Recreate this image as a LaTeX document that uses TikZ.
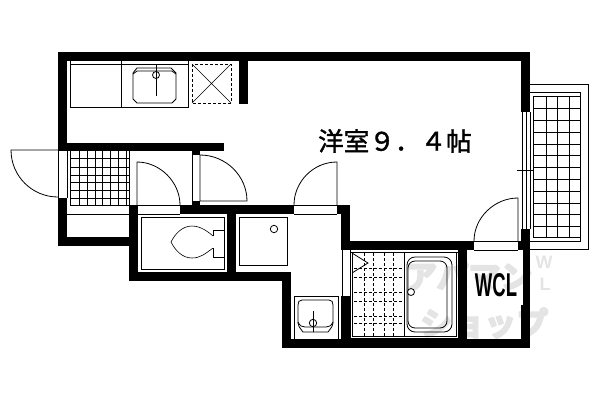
\documentclass[tikz,border=0pt]{standalone}
\usepackage{fontspec}
\setmainfont{Liberation Sans}
\newfontfamily\cjk[FakeBold=1.5]{Noto Sans CJK JP}
\newfontfamily\cjkmark[FakeBold=6]{Noto Sans CJK JP Bold}
\definecolor{markgray}{HTML}{E4E4E4}
\tikzset{
    wall/.style={fill=black,draw=none},
    fixture/.style={draw=black,line width=0.8pt},
    thin line/.style={draw=black,line width=0.6pt},
    dash line/.style={draw=black,line width=0.8pt,dash pattern=on 3pt off 2pt},
    mark text/.style={text=markgray,font=\cjkmark\fontsize{32}{32}\selectfont,inner sep=0pt},
    mark letter/.style={text=markgray,font=\bfseries\fontsize{18}{18}\selectfont,inner sep=0pt}
}
\begin{document}
\begin{tikzpicture}[x=1pt,y=-1pt]
    \useasboundingbox (0,0) rectangle (600,400);

    % watermark
    \node[mark text,anchor=west] (markTop) at (405,276) {\special{pdf:code 0.894 G 5 w 1 j 2 Tr}アパマン};
    \node[mark text,anchor=west] (markBottom) at (420,323) {\special{pdf:code 0.894 G 5 w 1 j 2 Tr}ショップ};
    \node[mark letter] (markW) at (544,262) {W};
    \node[mark letter] (markL) at (545,284) {L};

    % walls
    \foreach \xa/\ya/\xb/\yb in {58/52/530/61, 58/52/67/151, 58/143/224/151, 239/52/248/104,
        521/52/530/112, 521/229/530/250, 523/250/530/305, 521/305/530/348, 58/198/67/246,
        58/237/138/246, 129/205/138/281, 129/272/291/281, 180/205/294/214, 337/205/350/214,
        227/205/236/281, 192/151/200/155, 192/201/200/205, 282/272/291/348, 282/339/530/348,
        341/205/350/250, 341/296/350/348, 341/241/474/250, 518/241/530/250, 458/250/467/348}
        \fill[wall] (\xa,\ya) rectangle (\xb,\yb);

    % entry
    \draw[fixture] (58,151) -- (58,198) (67,151) -- (67,198) (70,151) -- (70,205);
    \draw[fixture] (58,150) -- (11,150) .. controls (11,176) and (32,197) .. (58,197);
    \foreach \a in {79,87,95,102,110,118,126,129}
        \draw[fixture] (\a,151) -- (\a,205);
    \foreach \a in {158,167,175,182,190,198,205}
        \draw[fixture] (70,\a) -- (129,\a);
    \draw[fixture] (67,214) -- (129,214) (138,205) -- (180,205) (138,214) -- (180,214);

    % doors
    \draw[fixture] (137,205) -- (137,162) .. controls (160,162) and (180,182) .. (180,205);
    \draw[fixture] (192,155) -- (192,201);
    \draw[fixture] (200,201) -- (200,155) .. controls (226,155) and (247,176) .. (247,201) -- (200,201);
    \draw[fixture] (337,205) -- (337,162) .. controls (313,162) and (294,182) .. (294,205);
    \draw[fixture] (294,205) -- (337,205) (294,214) -- (337,214);
    \draw[fixture] (518,241) -- (518,198) .. controls (494,198) and (474,218) .. (474,241);
    \draw[fixture] (474,241) -- (518,241) (474,250) -- (518,250);

    % kitchen
    \draw[fixture] (70,61) -- (70,107) -- (188,107) -- (188,61) (70,64) -- (188,64) (121,61) -- (121,107);
    \draw[fixture] (137,68) -- (171,68) -- (176,73) -- (176,99) -- (172,103) -- (137,103) -- (133,99) -- (133,73) -- cycle;
    \draw[fixture] (133,74) -- (137,71) -- (172,71) -- (176,74);
    \draw[fixture] (156,64) -- (156,96);
    \draw[fixture] (156,75) circle (3.5);
    \draw[dash line] (192,64) rectangle (231,103);
    \draw[thin line] (192,64) -- (231,103) (231,64) -- (192,103);

    % toilet
    \draw[fixture] (141,217) rectangle (224,269);
    \draw[fixture] (213,236) -- (213,230) -- (224,230) (213,248) -- (213,257) -- (224,257);
    \draw[thin line] (213,236) .. controls (204,228) and (197,226) .. (192,226) .. controls (182,226) and (175,234) .. (171,242)
        .. controls (175,250) and (182,258) .. (192,258) .. controls (200,258) and (205,254) .. (213,248);

    % washer
    \draw[fixture] (239,217) rectangle (287,265);
    \draw[fixture] (274,229) circle (3.7);

    % basin
    \draw[fixture] (294,339) -- (294,296) -- (338,296) -- (338,339);
    \draw[fixture] (302,300) -- (329,300) .. controls (332,300) and (333,302) .. (333,305) -- (333,323) .. controls (333,325) and (332,327) .. (328,332)
        -- (303,332) .. controls (299,327) and (298,325) .. (298,323) -- (298,305) .. controls (298,302) and (299,300) .. (302,300);
    \draw[fixture] (298,322) .. controls (300,326) and (302,327) .. (305,327) -- (326,327) .. controls (329,327) and (331,326) .. (333,322);
    \draw[fixture] (313,311) -- (313,332);
    \draw[fixture] (313,323) circle (3.7);

    % bath
    \draw[fixture] (342,250) -- (342,296) (350,250) -- (350,296);
    \draw[fixture] (350,252) rectangle (458,338);
    \draw[fixture] (352,252) -- (352,336) -- (456,336) -- (456,252);
    \draw[fixture] (404,252) -- (404,336);
    \draw[fixture] (352,253) -- (368,263) -- (352,273);
    \foreach \a in {364,373,384,393}
        \draw[dash line] (\a,253) -- (\a,336);
    \foreach \a in {268,277,292,301,316,323}
        \draw[dash line] (354,\a) -- (404,\a);
    \draw[fixture,rounded corners=8pt] (407,257) rectangle (452,332);
    \draw[fixture,rounded corners=7pt] (408,261) rectangle (447,328);
    \draw[fill=white,line width=0.8pt] (411,292) circle (3.5);

    % balcony
    \draw[fixture] (530,84) -- (588,84) -- (588,249) -- (530,249);
    \draw[fixture] (530,92) -- (580,92) -- (580,241) -- (530,241);
    \draw[fixture] (533,96) rectangle (580,237);
    \foreach \a in {533,546,557,569}
        \draw[fixture] (\a,96) -- (\a,237);
    \foreach \a in {108,120,132,144,155,167,179,191,203,214,226}
        \draw[fixture] (533,\a) -- (580,\a);
    \draw[fixture] (522,112) -- (522,229) (526,112) -- (526,229) (530,112) -- (530,229);
    \draw[fixture] (517,170) -- (533,170);

    % labels
    \node[font=\cjk\fontsize{25.6}{26}\selectfont,inner sep=0pt] (roomLabel) at (395,141) {洋室９．４帖};
    \node[font=\bfseries\fontsize{33}{33}\selectfont,inner sep=0pt,xscale=0.56] (wclLabel) at (496,285) {WCL};
\end{tikzpicture}
\end{document}
